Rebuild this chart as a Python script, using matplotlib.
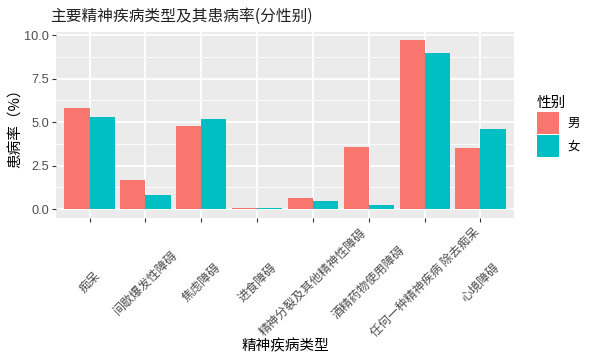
import matplotlib
matplotlib.use("Agg")
import matplotlib.pyplot as plt
import numpy as np

plt.rcParams['font.family'] = ['Noto Sans CJK SC', 'DejaVu Sans']

categories = ["痴呆", "间歇爆发性障碍", "焦虑障碍", "进食障碍",
              "精神分裂及其他精神性障碍", "酒精药物使用障碍",
              "任何一种精神疾病 除去痴呆", "心境障碍"]
male = [5.82, 1.66, 4.78, 0.1, 0.67, 3.56, 9.71, 3.51]
female = [5.30, 0.79, 5.18, 0.1, 0.50, 0.27, 9.00, 4.60]
series_names = ["男", "女"]
colors = ["#F8766D", "#00BFC4"]
yticks = [0.0, 2.5, 5.0, 7.5, 10.0]

fig = plt.figure(figsize=(6, 3.61), dpi=100)
ax = fig.add_axes([56/600, 1-217.7/361, (514-56)/600, (217.7-31.7)/361])
ax.set_facecolor("#EBEBEB")

x = np.arange(1, len(categories)+1)
w = 0.45
ax.bar(x - w/2, male, width=w, color=colors[0], label=series_names[0], zorder=3)
ax.bar(x + w/2, female, width=w, color=colors[1], label=series_names[1], zorder=3)

ax.set_xlim(0.4, len(categories)+0.6)
ax.set_ylim(-0.486, 10.2)
ax.set_yticks(yticks)
ax.set_yticklabels([f"{v:.1f}" for v in yticks], family=['Liberation Sans', 'DejaVu Sans'])
ax.set_yticks([1.25, 3.75, 6.25, 8.75], minor=True)
ax.set_xticks(x)
ax.set_xticklabels(categories, rotation=45, ha='center', va='center')

ax.grid(which='major', color='white', linewidth=1.3, zorder=0)
ax.grid(which='minor', axis='y', color='white', linewidth=0.6, zorder=0)
ax.set_axisbelow(True)
for s in ax.spines.values():
    s.set_visible(False)

ax.tick_params(axis='y', which='major', length=3, width=0.8, color='#333333',
               labelsize=9.2, labelcolor='#4D4D4D', pad=2)
ax.tick_params(axis='y', which='minor', length=0)
ax.tick_params(axis='x', which='major', length=3, width=0.8, color='#333333',
               labelsize=8.7, labelcolor='#4D4D4D', pad=43.5)

ax.set_xlabel("精神疾病类型", fontsize=10.5, labelpad=0)
ax.set_ylabel("患病率（%）", fontsize=10.5, labelpad=1)

fig.text(50/600, 1-16/361, "主要精神疾病类型及其患病率(分性别)", fontsize=11.3,
         ha='left', va='center', color='#222222')

leg = ax.legend(title="性别", loc='upper left', bbox_to_anchor=(532/600, 1-91/361),
                bbox_transform=fig.transFigure, frameon=False, fontsize=9,
                title_fontsize=10.5, handlelength=1.76, handleheight=2.35,
                labelspacing=0.12, handletextpad=0.64, borderaxespad=0)
leg._legend_box.align = "left"

fig.savefig("out.png", dpi=100)
